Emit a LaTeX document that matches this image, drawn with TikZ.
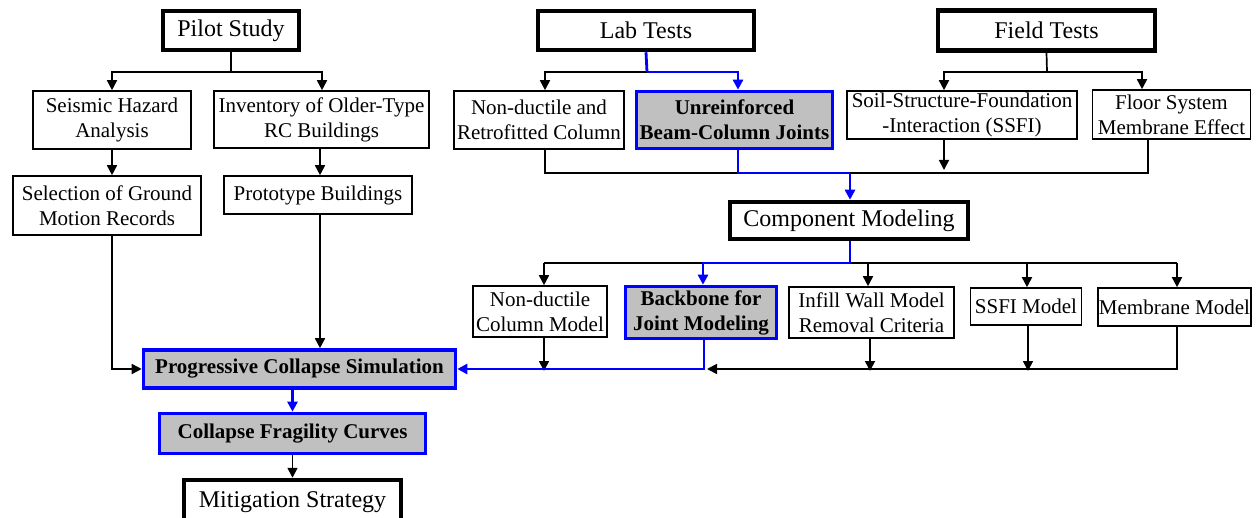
\documentclass[tikz,border=0pt]{standalone}
\usepackage{fontspec}
\setmainfont{Liberation Serif}
\usetikzlibrary{arrows.meta}
\definecolor{boxgray}{RGB}{192,192,192}
\tikzset{
  base/.style={draw, rectangle, align=center, inner sep=1pt, font=\fontsize{21}{25}\selectfont},
  thin/.style={base, line width=1.6pt},
  title/.style={base, line width=4.5pt, font=\fontsize{24}{28}\selectfont},
  hl/.style={base, draw=blue, fill=boxgray, line width=3.6pt, font=\fontsize{21}{25}\selectfont\bfseries},
  arr/.style={line width=1.7pt, -{Triangle[length=10pt,width=10pt]}},
  barr/.style={draw=blue, line width=2.8pt, -{Triangle[length=10pt,width=10pt]}},
  bline/.style={draw=blue, line width=2.8pt},
  kline/.style={line width=1.7pt},
}
\begin{document}
\begin{tikzpicture}[x=1pt,y=-1pt]
\useasboundingbox (0,0) rectangle (1257,518);
\clip (0,0) rectangle (1257,518);
% left column
\node[title, minimum width=136, minimum height=39] (pilot) at (231,30.5) {Pilot Study};
\node[thin, minimum width=158, minimum height=58] (seismic) at (112,120) {Seismic Hazard\\Analysis};
\node[thin, minimum width=215, minimum height=57] (inventory) at (321.5,119.5) {Inventory of Older-Type\\RC Buildings};
\node[thin, minimum width=188, minimum height=59] (selection) at (107,205.5) {Selection of Ground\\Motion Records};
\node[thin, minimum width=188, minimum height=38] (prototype) at (318,195) {Prototype Buildings};
\node[hl, minimum width=312, minimum height=38] (progressive) at (299.5,369) {Progressive Collapse Simulation};
\node[hl, minimum width=266, minimum height=40] (fragility) at (292.5,433.5) {Collapse Fragility Curves};
\node[title, minimum width=217, minimum height=44] (mitigation) at (292.5,502) {Mitigation Strategy};
% lab tests
\node[title, minimum width=216, minimum height=39] (lab) at (646,30.5) {Lab Tests};
\node[thin, minimum width=170, minimum height=58] (nonduct) at (539,120) {Non-ductile and\\Retrofitted Column};
\node[hl, minimum width=196, minimum height=57] (unrein) at (734.5,120) {Unreinforced\\Beam-Column Joints};
% field tests
\node[title, minimum width=217, minimum height=40] (field) at (1046.5,30.5) {Field Tests};
\node[thin, minimum width=230, minimum height=48] (soil) at (962,115) {Soil-Structure-Foundation\\-Interaction (SSFI)};
\node[thin, minimum width=158, minimum height=49] (floor) at (1171.5,114.5) {Floor System\\Membrane Effect};
% component modeling
\node[title, minimum width=238, minimum height=37] (component) at (849,220.5) {Component Modeling};
\node[thin, minimum width=134, minimum height=51] (ndcm) at (540,311.5) {Non-ductile\\Column Model};
\node[hl, minimum width=151, minimum height=52] (backbone) at (701,312.5) {Backbone for\\Joint Modeling};
\node[thin, minimum width=165, minimum height=51] (infill) at (871.5,312.5) {Infill Wall Model\\Removal Criteria};
\node[thin, minimum width=111, minimum height=37] (ssfim) at (1026,306.5) {SSFI Model};
\node[thin, minimum width=153, minimum height=38] (membrane) at (1174.5,307) {Membrane Model};

% junction coordinates
\coordinate (pj) at (231,72);
\coordinate (lj) at (647,72);
\coordinate (fj) at (1047,72);
\coordinate (mj) at (850,173);
\coordinate (cj) at (850,263);
\coordinate (bj) at (704,369);

% pilot study
\draw[kline] (pilot.south) -- (pj);
\draw[arr] (pj) -| (seismic.north);
\draw[arr] (pj) -| ([xshift=0.5]inventory.north);
\draw[arr] (seismic.south) -- (seismic.south |- selection.north);
\draw[arr] ([xshift=-1.5]inventory.south) -- ([xshift=-1.5]inventory.south |- prototype.north);
\draw[arr] (seismic.south |- selection.south) |- (progressive.west);
\draw[arr] ([xshift=2]prototype.south) -- ([xshift=2]prototype.south |- progressive.north);
\draw[barr] (fragility.north |- progressive.south) -- (fragility.north);
\draw[arr] (fragility.south) -- (mitigation.north);

% lab tests
\draw[arr] (lj) -| ([xshift=6]nonduct.north);
\draw[bline] (lab.south) -- (lj);
\draw[barr] (lj) -| ([xshift=3.5]unrein.north);
\draw[kline] ([xshift=6]nonduct.south) |- ([xshift=3.5]unrein.south |- mj);
\draw[kline] ([xshift=-23.5]floor.south) |- (mj);
\draw[bline] ([xshift=3.5]unrein.south) |- (mj);
\draw[barr] (mj) -- (component.north -| mj);

% field tests
\draw[kline] (field.south) -- (fj);
\draw[arr] (fj) -| ([xshift=-18]soil.north);
\draw[arr] (fj) -| ([xshift=-29.5]floor.north);
\draw[arr] ([xshift=-18]soil.south) -- ([xshift=-18,yshift=3]soil.south |- mj);

% component modeling
\draw[kline] ([xshift=4]ndcm.north |- cj) -- ([xshift=2.5]membrane.north |- cj);
\draw[arr] ([xshift=4]ndcm.north |- cj) -- ([xshift=4]ndcm.north);
\draw[arr] ([xshift=-3.5]infill.north |- cj) -- ([xshift=-3.5]infill.north);
\draw[arr] ([xshift=1]ssfim.north |- cj) -- ([xshift=1]ssfim.north);
\draw[arr] ([xshift=2.5]membrane.north |- cj) -- ([xshift=2.5]membrane.north);
\draw[bline] (component.south -| cj) -- (cj);
\draw[barr] (cj) -| ([xshift=2]backbone.north);

% bottom collectors
\draw[arr] ([xshift=4]ndcm.south) -- ([xshift=4,yshift=-2]ndcm.south |- bj);
\draw[barr] ([xshift=3]backbone.south) |- (progressive.east);
\draw[arr] ([xshift=2.5]membrane.south) |- ([xshift=3]bj);
\draw[arr] ([xshift=-1.5]infill.south) -- ([xshift=-1.5,yshift=-2]infill.south |- bj);
\draw[arr] ([xshift=2]ssfim.south) -- ([xshift=2,yshift=-2]ssfim.south |- bj);
\end{tikzpicture}
\end{document}
